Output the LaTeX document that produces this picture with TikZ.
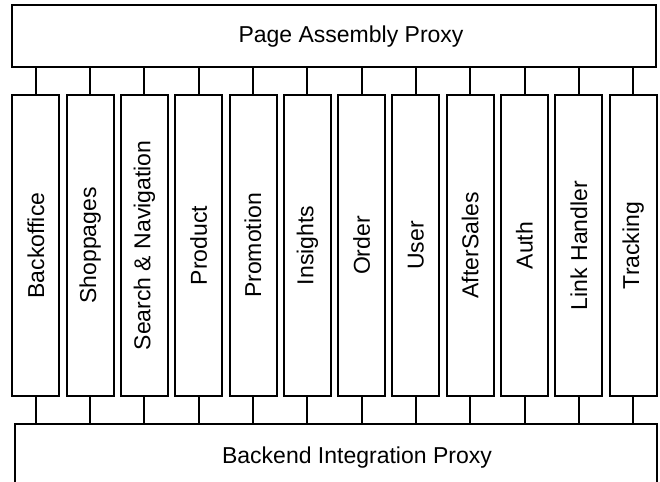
\documentclass[tikz,border=0pt]{standalone}
\usepackage{fontspec}
\setmainfont{Liberation Sans}
\begin{document}
\begin{tikzpicture}[x=1pt,y=-1pt,line width=2pt,
  box/.style={draw=black,rectangle,inner sep=0pt},
  lbl/.style={inner sep=0pt,font=\fontsize{23}{27}\selectfont},
  conn/.style={draw=black,line width=2pt}]
\useasboundingbox (0,0) rectangle (660,481);
\clip (0,0) rectangle (660,481);
\node[box,minimum width=643.4pt,minimum height=61.7pt] (top) at (334,35.85) {};
\node[lbl] (toplbl) at (351,37) {Page Assembly Proxy};
\node[box,minimum width=642.3pt,minimum height=65.4pt] (bot) at (335.85,457) {};
\node[lbl] (botlbl) at (357,458) {Backend Integration Proxy};
\foreach \i/\t in {0/Backoffice,1/Shoppages,2/Search \& Navigation,3/Product,4/Promotion,5/Insights,6/Order,7/User,8/AfterSales,9/Auth,10/Link Handler,11/Tracking}{
  \node[box,minimum width=47pt,minimum height=301pt] (c\i) at ({35.8+54.3*\i},245.5) {};
  \node[lbl,rotate=90] (l\i) at (c\i.center) {\t};
  \draw[conn] (c\i.north) -- (c\i.north |- top.south);
  \draw[conn] (c\i.south) -- (c\i.south |- bot.north);
}
\end{tikzpicture}
\end{document}
